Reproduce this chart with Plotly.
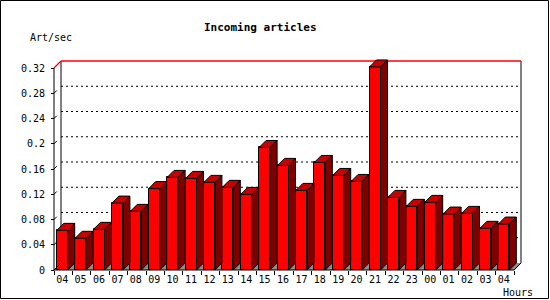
import plotly.graph_objects as go

# ---- data ----
hours = ["04", "05", "06", "07", "08", "09", "10", "11", "12", "13", "14", "15", "16",
         "17", "18", "19", "20", "21", "22", "23", "00", "01", "02", "03", "04"]
art_per_sec = [0.0628, 0.0502, 0.0644, 0.106, 0.0929, 0.129, 0.1467, 0.1451, 0.1388,
               0.1309, 0.1198, 0.1941, 0.1657, 0.1261, 0.1704, 0.1498, 0.1403, 0.3217,
               0.115, 0.1008, 0.1071, 0.0886, 0.0897, 0.066, 0.0728]
y_ticks = [0, 0.04, 0.08, 0.12, 0.16, 0.2, 0.24, 0.28, 0.32]
y_max = 0.32

# ---- geometry (pixels) ----
W, H = 550, 300
ML, MR, MT, MB = 30, 10, 40, 15
X0PX, SLOT = 54.0, 18.4          # front y-axis pixel, slot width in px
Y0PX, PXU = 270.0, 631.25        # zero line pixel, px per unit
DEPTH = 7.0                      # 3D depth in px
n = len(hours)
dx = DEPTH / SLOT
dy = DEPTH / PXU
off, bw = 2.7 / SLOT, 11.0 / SLOT

xr = [(ML - X0PX) / SLOT, (W - MR - X0PX) / SLOT]
yr = [(Y0PX - (H - MB)) / PXU, (Y0PX - MT) / PXU]
pw, ph = W - ML - MR, H - MT - MB

def px(xp):
    return (xp - ML) / pw

def py(yp):
    return (H - MB - yp) / ph

FRONT, TOP, SIDE = "#ff0000", "#c80000", "#800000"

fig = go.Figure()

# front faces
fig.add_trace(go.Bar(
    x=[i + off + bw / 2 for i in range(n)], y=art_per_sec, width=bw,
    marker=dict(color=FRONT, line=dict(color="black", width=1)),
    hoverinfo="skip", showlegend=False))

# top faces and side faces
tx, ty, sx, sy = [], [], [], []
for i, v in enumerate(art_per_sec):
    a = i + off
    b = a + bw
    tx += [a, a + dx, b + dx, b, a, None]
    ty += [v, v + dy, v + dy, v, v, None]
    sx += [b, b + dx, b + dx, b, b, None]
    sy += [v, v + dy, dy, 0, v, None]
fig.add_trace(go.Scatter(x=tx, y=ty, mode="lines", fill="toself", fillcolor=TOP,
                         line=dict(color="black", width=1), hoverinfo="skip", showlegend=False))
fig.add_trace(go.Scatter(x=sx, y=sy, mode="lines", fill="toself", fillcolor=SIDE,
                         line=dict(color="black", width=1), hoverinfo="skip", showlegend=False))

shapes = []
# floor
shapes.append(dict(type="path", xref="x", yref="y", layer="below",
                   path=f"M 0 0 L {dx} {dy} L {n + dx} {dy} L {n} 0 Z",
                   fillcolor="#8c8c8c", line=dict(width=0)))
# grid on back plane
for t in y_ticks[1:-1]:
    shapes.append(dict(type="line", xref="x", yref="y", layer="below",
                       x0=dx, x1=n + dx, y0=t + dy, y1=t + dy,
                       line=dict(color="black", width=1, dash="2px,3px")))
    shapes.append(dict(type="line", xref="x", yref="y", layer="below",
                       x0=0, x1=dx * 0.4, y0=t, y1=t + dy * 0.4,
                       line=dict(color="black", width=1)))
# back plane edges
for xe in (dx, n + dx):
    shapes.append(dict(type="line", xref="x", yref="y", layer="below",
                       x0=xe, x1=xe, y0=dy, y1=y_max + dy, line=dict(color="black", width=1)))
shapes.append(dict(type="line", xref="x", yref="y", layer="below",
                   x0=dx, x1=n + dx, y0=y_max + dy, y1=y_max + dy,
                   line=dict(color="#ff0000", width=1.3)))
shapes.append(dict(type="line", xref="x", yref="y", layer="below",
                   x0=0, x1=dx, y0=y_max, y1=y_max + dy,
                   line=dict(color="#ff0000", width=1.3)))
# front axes
shapes.append(dict(type="line", xref="x", yref="y", x0=0, x1=0, y0=0, y1=y_max,
                   line=dict(color="black", width=1)))
shapes.append(dict(type="line", xref="x", yref="y", x0=0, x1=n, y0=0, y1=0,
                   line=dict(color="black", width=1)))
shapes.append(dict(type="line", xref="x", yref="y", x0=n, x1=n + dx, y0=0, y1=dy,
                   line=dict(color="black", width=1)))
shapes.append(dict(type="line", xref="x", yref="y", x0=0, x1=dx, y0=0, y1=dy,
                   line=dict(color="black", width=1)))
# outer frame
shapes.append(dict(type="rect", xref="paper", yref="paper",
                   x0=px(0.5), x1=px(W - 1.5), y0=py(0.5), y1=py(298.5),
                   line=dict(color="black", width=1), fillcolor="rgba(0,0,0,0)"))

MONO = "DejaVu Sans Mono"
annotations = [
    dict(text="<b>Incoming articles</b>", xref="paper", yref="paper", x=px(260), y=py(27),
         showarrow=False, font=dict(family=MONO, size=11, color="black"),
         xanchor="center", yanchor="middle"),
    dict(text="Art/sec", xref="paper", yref="paper", x=px(28), y=py(37),
         showarrow=False, font=dict(family=MONO, size=10, color="black"),
         xanchor="left", yanchor="middle"),
    dict(text="Hours", xref="paper", yref="paper", x=px(535), y=py(292),
         showarrow=False, font=dict(family=MONO, size=10, color="black"),
         xanchor="right", yanchor="middle"),
]

fig.update_layout(
    width=W, height=H, margin=dict(l=ML, r=MR, t=MT, b=MB, pad=0),
    paper_bgcolor="white", plot_bgcolor="white",
    shapes=shapes, annotations=annotations, showlegend=False, bargap=0,
    xaxis=dict(range=xr, anchor="free", position=py(Y0PX), showgrid=False, zeroline=False,
               showline=False, tickvals=[i + off + bw / 2 for i in range(n)], ticktext=hours,
               ticks="outside", ticklen=0, tickcolor="rgba(0,0,0,0)",
               tickfont=dict(family=MONO, size=10, color="black"),
               minor=dict(tickvals=list(range(n + 1)), ticks="outside", ticklen=4,
                          tickcolor="black", tickwidth=1, showgrid=False)),
    yaxis=dict(range=yr, anchor="free", position=px(X0PX), showgrid=False, zeroline=False,
               showline=False, tickvals=y_ticks, ticks="outside", ticklen=3,
               tickcolor="black", tickwidth=1, ticklabelstandoff=4,
               tickfont=dict(family=MONO, size=10, color="black")),
)

fig.write_html("out.html")
